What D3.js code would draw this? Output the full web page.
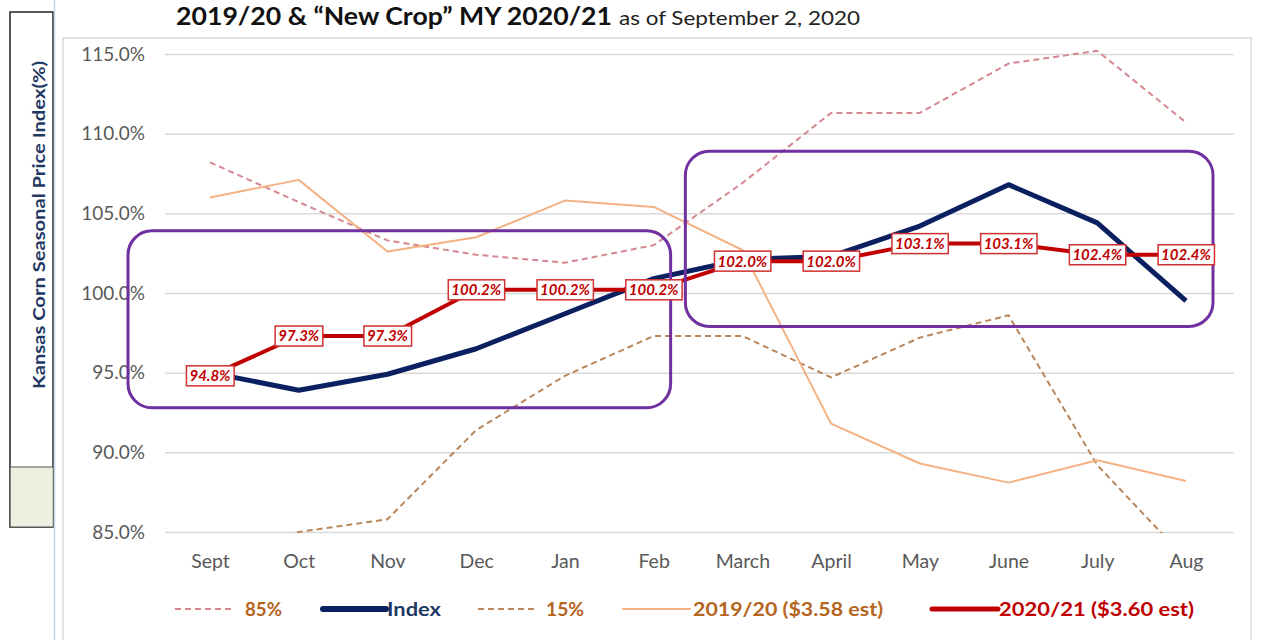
<!DOCTYPE html>
<html><head><meta charset="utf-8">
<script src="https://cdn.jsdelivr.net/npm/d3@7"></script>
<style>body{margin:0;background:#fff}svg{display:block}</style>
</head><body>
<svg id="c" width="1267" height="640"></svg>
<script>
const months = ["Sept","Oct","Nov","Dec","Jan","Feb","March","April","May","June","July","Aug"];
const yTicks = [85,90,95,100,105,110,115];
const p85 = [108.2,105.7,103.3,102.4,101.9,103.0,106.9,111.3,111.3,114.4,115.2,110.7];
const indexVals = [95.0,93.9,94.9,96.5,98.7,100.9,102.1,102.3,104.2,106.8,104.4,99.5];
const p15 = [83.5,85.0,85.8,91.4,94.8,97.3,97.3,94.7,97.2,98.6,89.2,83.3];
const y1920 = [106.0,107.1,102.6,103.5,105.8,105.4,102.7,91.8,89.3,88.1,89.5,88.2];
const y2021 = [94.8,97.3,97.3,100.2,100.2,100.2,102.0,102.0,103.1,103.1,102.4,102.4];
const legendNames = ["85%","Index","15%","2019/20 ($3.58 est)","2020/21 ($3.60 est)"];

const svg = d3.select("#c");
const font = "Lato, 'Open Sans', sans-serif";
const x = d3.scalePoint().domain(months).range([210,1186]);
const y = d3.scaleLinear().domain([85,115]).range([532,54]);

// left decoration
svg.append("rect").attr("x",10).attr("y",12).attr("width",43).attr("height",515).attr("fill","#fff").attr("stroke","#222").attr("stroke-width",1.5);
svg.append("rect").attr("x",10.75).attr("y",467).attr("width",42).attr("height",59.5).attr("fill","#ebf1de");
svg.append("line").attr("x1",10).attr("x2",53).attr("y1",467).attr("y2",467).attr("stroke","#555");
svg.append("line").attr("x1",54.5).attr("x2",54.5).attr("y1",0).attr("y2",640).attr("stroke","#bdd7ee").attr("stroke-width",1.5);

// plot frame
svg.append("rect").attr("x",63).attr("y",38).attr("width",1188).attr("height",640).attr("fill","none").attr("stroke","#d9d9d9").attr("stroke-width",1.5);

// title
const t = svg.append("text").attr("x",176).attr("y",25).attr("font-family",font).attr("fill","#111");
t.append("tspan").attr("font-size",24).attr("font-weight","bold").attr("textLength",436).attr("lengthAdjust","spacingAndGlyphs").text("2019/20 & \u201CNew Crop\u201D MY 2020/21");
t.append("tspan").attr("x",619).attr("font-size",20).attr("fill","#222").attr("textLength",241).attr("lengthAdjust","spacingAndGlyphs").text("as of September 2, 2020");

// y axis title
svg.append("text").attr("transform","translate(45,225) rotate(-90)").attr("text-anchor","middle")
  .attr("font-family",font).attr("font-size",17).attr("font-weight","bold").attr("fill","#1f3864")
  .attr("textLength",328).attr("lengthAdjust","spacingAndGlyphs")
  .text("Kansas Corn Seasonal Price Index(%)");

// grid
const yAxis = d3.axisLeft(y).tickValues(yTicks).tickSize(-(1234-165)).tickPadding(20).tickFormat(d=>d.toFixed(1)+"%");
const ga = svg.append("g").attr("transform","translate(165,0)").call(yAxis);
ga.select(".domain").remove();
ga.selectAll(".tick line").attr("stroke","#d9d9d9").attr("stroke-width",1.5);
ga.selectAll(".tick text").attr("font-family",font).attr("font-size",19).attr("fill","#595959");

const xAxis = d3.axisBottom(x).tickSize(0).tickPadding(22);
const gx = svg.append("g").attr("transform","translate(0,532)").call(xAxis);
gx.select(".domain").remove();
gx.selectAll(".tick text").attr("font-family",font).attr("font-size",19.5).attr("fill","#595959");

// clip
svg.append("clipPath").attr("id","pc").append("rect").attr("x",63).attr("y",38).attr("width",1188).attr("height",532-38+1);

const line = d3.line().x((d,i)=>x(months[i])).y(d=>y(d));
const series = [
  {vals:p85, color:"#d4878f", w:2, dash:"6,4"},
  {vals:p15, color:"#b8865a", w:2, dash:"6,4"},
  {vals:y1920, color:"#f4b183", w:2, dash:null},
  {vals:indexVals, color:"#0b2060", w:5, dash:null},
  {vals:y2021, color:"#c00000", w:4, dash:null}
];
const gl = svg.append("g").attr("clip-path","url(#pc)");
series.forEach(s=>{
  gl.append("path").attr("d",line(s.vals)).attr("fill","none").attr("stroke",s.color)
    .attr("stroke-width",s.w).attr("stroke-dasharray",s.dash).attr("stroke-linejoin","round");
});

// purple highlight boxes
const boxes = [
  {m0:"Sept", m1:"Feb", top:103.9, bot:92.8, dx0:-82, dx1:17},
  {m0:"March", m1:"Aug", top:108.9, bot:97.9, dx0:-57, dx1:27}
];
boxes.forEach(b=>{
  svg.append("rect").attr("x",x(b.m0)+b.dx0).attr("y",y(b.top)).attr("width",x(b.m1)+b.dx1-(x(b.m0)+b.dx0))
    .attr("height",y(b.bot)-y(b.top)).attr("rx",24).attr("fill","none").attr("stroke","#7030a0").attr("stroke-width",3);
});

// data labels
const gLab = svg.append("g");
y2021.forEach((v,i)=>{
  const g = gLab.append("g").attr("transform",`translate(${x(months[i])},${y(v)})`);
  const txt = g.append("text").attr("text-anchor","middle").attr("dy","0.36em")
    .attr("font-family",font).attr("font-size",15).attr("font-weight","bold").attr("font-style","italic")
    .attr("fill","#c00000").text(v.toFixed(1)+"%");
  const bb = txt.node().getBBox();
  g.insert("rect","text").attr("x",bb.x-3).attr("y",-10).attr("width",bb.width+6).attr("height",20)
    .attr("fill","#fff").attr("stroke","#d03030").attr("stroke-width",1.5);
});

// legend
const legendStyle = [
  {color:"#d4878f", w:2, dash:"6,4", tc:"#b5651d", l0:175, l1:234, tx:245, tw:37},
  {color:"#0b2060", w:6, dash:null, tc:"#1f3864", l0:323, l1:386, tx:387, tw:54},
  {color:"#b8865a", w:2, dash:"6,4", tc:"#b5651d", l0:478, l1:537, tx:546, tw:38},
  {color:"#f4b183", w:2, dash:null, tc:"#b5651d", l0:623, l1:690, tx:693, tw:190},
  {color:"#c00000", w:5, dash:null, tc:"#c00000", l0:932, l1:998, tx:999, tw:195}
];
const gLeg = svg.append("g").attr("transform","translate(0,609)");
legendNames.forEach((n,i)=>{
  const s = legendStyle[i];
  gLeg.append("line").attr("x1",s.l0).attr("x2",s.l1).attr("stroke",s.color).attr("stroke-width",s.w)
    .attr("stroke-dasharray",s.dash).attr("stroke-linecap",s.dash?"butt":"round");
  gLeg.append("text").attr("x",s.tx).attr("dy","0.36em").attr("font-family",font)
    .attr("font-size",19).attr("font-weight","bold").attr("fill",s.tc)
    .attr("textLength",s.tw).attr("lengthAdjust","spacingAndGlyphs").text(n);
});
</script>
</body></html>
